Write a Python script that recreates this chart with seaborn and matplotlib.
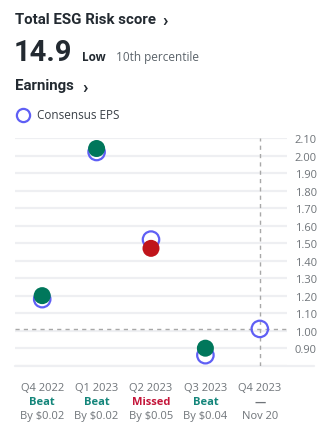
import matplotlib
matplotlib.use("Agg")
import matplotlib.pyplot as plt
from matplotlib.lines import Line2D
import matplotlib.transforms as mtransforms
import seaborn as sns
import pandas as pd

# Quarterly earnings data
quarters = ["Q4 2022", "Q1 2023", "Q2 2023", "Q3 2023", "Q4 2023"]
consensus_eps = [1.18, 2.02, 1.52, 0.86, 1.01]
actual_eps = [1.20, 2.04, 1.47, 0.90, None]
results = ["Beat", "Beat", "Missed", "Beat", "—"]
details = ["By $0.02", "By $0.02", "By $0.05", "By $0.04", "Nov 20"]
y_ticks = [0.90, 1.00, 1.10, 1.20, 1.30, 1.40, 1.50, 1.60, 1.70, 1.80, 1.90, 2.00, 2.10]

# ESG summary
esg_score = "14.9"
esg_level = "Low"
esg_percentile = "10th percentile"

GREEN = "#00775b"
RED = "#c0141b"
BLUE = "#5f5ff5"
GRID = "#eeeff2"
TICK_GREY = "#6f7479"
TEXT_DARK = "#232a31"
BEAT_COLOR = "#13857a"
MISS_COLOR = "#c4163a"
HEAD_FONT = ["Roboto", "DejaVu Sans"]

sns.set_theme(style="white")
plt.rcParams["font.family"] = ["Open Sans", "DejaVu Sans"]

W, H = 323, 435
fig = plt.figure(figsize=(W / 100, H / 100), dpi=100)
ax = fig.add_axes([15 / W, (H - 366.7) / H, (287 - 15) / W, (366.7 - 139) / H])

df = pd.DataFrame({
    "pos": list(range(len(quarters))),
    "quarter": quarters,
    "consensus": consensus_eps,
    "actual": actual_eps,
    "result": results,
})

# Light horizontal gridlines
for v in [0.80] + y_ticks:
    ax.axhline(v, color=GRID, lw=1.6, zorder=0)
# Baseline extends under the tick labels
ax.plot([-0.5, 5.0], [0.80, 0.80], color=GRID, lw=1.6, zorder=0, clip_on=False)

# Upcoming quarter guide lines
next_pos = len(quarters) - 1
ax.plot([next_pos, next_pos], [0.80, 2.10], color="#a8a8a8", lw=1.0,
        ls=(0, (3, 3)), zorder=1)
ax.axhline(consensus_eps[-1], color="#a8a8a8", lw=1.0, ls=(0, (3, 3)), zorder=1)

# Consensus (hollow) and actual (filled) EPS
sns.scatterplot(data=df, x="pos", y="consensus", ax=ax, s=140,
                facecolor="none", edgecolor=BLUE, linewidth=1.6,
                zorder=3, clip_on=False, legend=False)
actual_df = df.dropna(subset=["actual"])
sns.scatterplot(data=actual_df, x="pos", y="actual", hue="result",
                palette={"Beat": GREEN, "Missed": RED}, ax=ax, s=150,
                linewidth=0, zorder=4, clip_on=False, legend=False)

ax.set_xlim(-0.5, 4.5)
ax.set_ylim(0.80, 2.10)
ax.set_xlabel("")
ax.set_ylabel("")
ax.set_xticks([])
ax.yaxis.tick_right()
ax.set_yticks(y_ticks)
ax.set_yticklabels([f"{v:.2f}" for v in y_ticks])
ax.tick_params(axis="y", length=0, pad=5.5, labelsize=8, labelcolor=TICK_GREY)
for s in ax.spines.values():
    s.set_visible(False)

# Multi-line quarter labels below the axis
trans = mtransforms.blended_transform_factory(ax.transData, fig.transFigure)
result_colors = {"Beat": BEAT_COLOR, "Missed": MISS_COLOR}
for i, (q, r, d) in enumerate(zip(quarters, results, details)):
    ax.text(i, 1 - 388.5 / H, q, transform=trans, ha="center", va="center",
            fontsize=8, color=TICK_GREY)
    ax.text(i, 1 - 402.5 / H, r, transform=trans, ha="center", va="center",
            fontsize=8, color=result_colors.get(r, TICK_GREY), fontweight="bold")
    ax.text(i, 1 - 417 / H, d, transform=trans, ha="center", va="center",
            fontsize=8, color=TICK_GREY)

# Header
fig.text(15 / W, 1 - 19.5 / H, "Total ESG Risk score", fontsize=10.8,
         fontweight="bold", color=TEXT_DARK, ha="left", va="center",
         family=HEAD_FONT)
fig.text(162 / W, 1 - 21 / H, "›", fontsize=13, fontweight="bold",
         color=TEXT_DARK, ha="left", va="center", family=HEAD_FONT)
fig.text(14 / W, 1 - 61 / H, esg_score, fontsize=21, fontweight="bold",
         color=TEXT_DARK, ha="left", va="baseline", family=HEAD_FONT)
fig.text(82 / W, 1 - 61 / H, esg_level, fontsize=8.5, fontweight="bold",
         color=TEXT_DARK, ha="left", va="baseline")
fig.text(116 / W, 1 - 61 / H, esg_percentile, fontsize=8.5,
         color="#5b636a", ha="left", va="baseline")
fig.text(15 / W, 1 - 86 / H, "Earnings", fontsize=10.8, fontweight="bold",
         color=TEXT_DARK, ha="left", va="center", family=HEAD_FONT)
fig.text(82 / W, 1 - 87.5 / H, "›", fontsize=13, fontweight="bold",
         color=TEXT_DARK, ha="left", va="center", family=HEAD_FONT)

# Legend
fig.add_artist(Line2D([22.5 / W], [1 - 116 / H], marker="o", markersize=9.5,
                      markerfacecolor="none", markeredgecolor=BLUE,
                      markeredgewidth=1.6, transform=fig.transFigure))
fig.text(37 / W, 1 - 116 / H, "Consensus EPS", fontsize=8.5,
         color="#3a4047", ha="left", va="center")

fig.savefig("out.png", dpi=100)
